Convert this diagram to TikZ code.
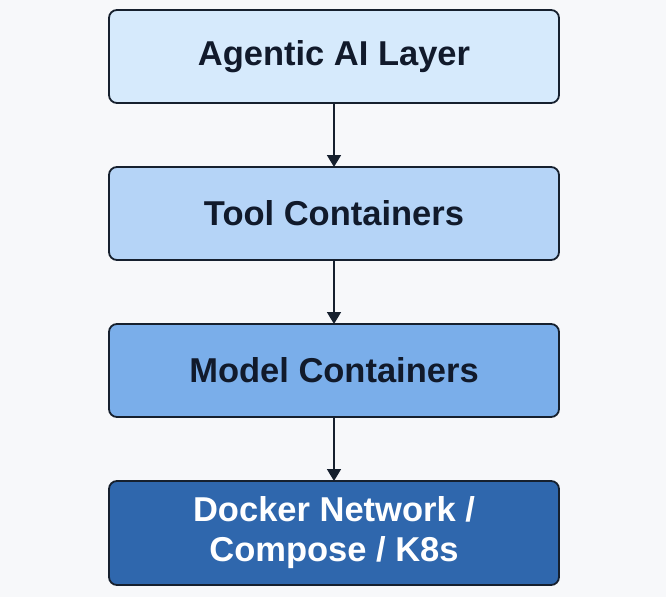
\documentclass[tikz,border=0pt]{standalone}
\usepackage{fontspec}
\setmainfont{Liberation Sans}
\usepackage{xcolor}
\usetikzlibrary{arrows.meta, positioning}

\definecolor{bgpage}{HTML}{F7F8FA}
\definecolor{edgenavy}{HTML}{16202E}
\definecolor{textnavy}{HTML}{111A2B}
\definecolor{layerA}{HTML}{D6EAFC}
\definecolor{layerB}{HTML}{B5D4F7}
\definecolor{layerC}{HTML}{7AAEEA}
\definecolor{layerD}{HTML}{2F67AD}

\tikzset{
  layer/.style={draw=edgenavy, line width=1.8pt, rounded corners=8pt, outer sep=0pt,
    minimum width=450pt, minimum height=93pt, align=center,
    text=textnavy, font=\fontsize{34.5}{40}\selectfont\bfseries},
  flow/.style={draw=edgenavy, line width=1.8pt, -{Triangle[length=12pt, width=14pt]}}
}

\begin{document}
\begin{tikzpicture}[x=1pt, y=-1pt, node distance=64pt]
\fill[bgpage] (0,0) rectangle (666,597);
\useasboundingbox (0,0) rectangle (666,597);

\node[layer, fill=layerA] (agentic) at (334,56.5) {Agentic AI Layer};
\node[layer, fill=layerB, below=of agentic] (tools) {Tool Containers};
\node[layer, fill=layerC, below=of tools] (models) {Model Containers};
\node[layer, fill=layerD, text=white, minimum height=104pt, below=of models] (network) {Docker Network /\\Compose / K8s};

\draw[flow] (agentic) -- (tools);
\draw[flow] (tools) -- (models);
\draw[flow] (models) -- (network);
\end{tikzpicture}
\end{document}
